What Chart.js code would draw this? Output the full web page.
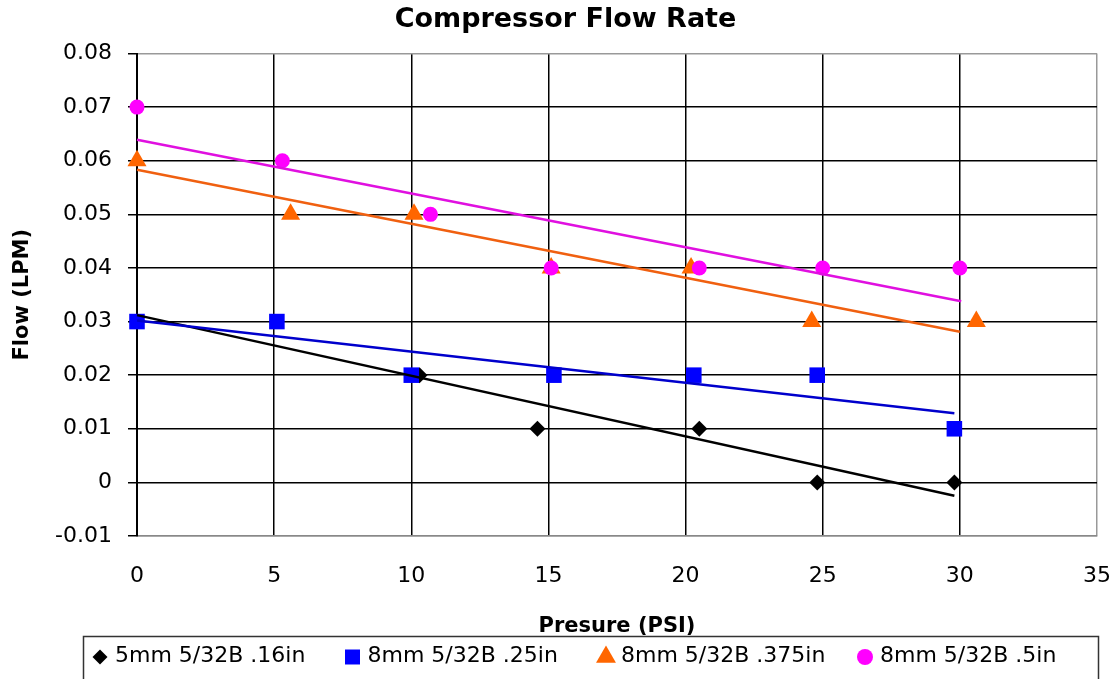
<!DOCTYPE html>
<html>
<head>
<meta charset="utf-8">
<title>Compressor Flow Rate</title>
<script src="https://cdn.jsdelivr.net/npm/chart.js@4.4.1/dist/chart.umd.min.js"></script>
<style>
  html, body { margin: 0; padding: 0; background: #fff; }
</style>
</head>
<body>
<canvas id="grafica" width="1116" height="679"></canvas>
<script>
// Textos de la gráfica
const titulo = 'Compressor Flow Rate';
const tituloX = 'Presure (PSI)';
const tituloY = 'Flow (LPM)';
const series = ['5mm 5/32B .16in', '8mm 5/32B .25in', '8mm 5/32B .375in', '8mm 5/32B .5in'];

// Datos (presión en PSI, flujo en LPM)
const presion16 = [0, 10.3, 14.6, 20.5, 24.8, 29.8];
const flujo16 = [0.03, 0.02, 0.01, 0.01, 0, 0];

const presion25 = [0, 5.1, 10.0, 15.2, 20.3, 24.8, 29.8];
const flujo25 = [0.03, 0.03, 0.02, 0.02, 0.02, 0.02, 0.01];

const presion375 = [0, 5.6, 10.1, 15.1, 20.2, 24.6, 30.6];
const flujo375 = [0.06, 0.05, 0.05, 0.04, 0.04, 0.03, 0.03];

const presion5 = [0, 5.3, 10.7, 15.1, 20.5, 25.0, 30.0];
const flujo5 = [0.07, 0.06, 0.05, 0.04, 0.04, 0.04, 0.04];

// Líneas de tendencia: extremos [inicio, fin]
const tendX16 = [0, 29.8];
const tendY16 = [0.0312, -0.0025];
const tendX25 = [0, 29.8];
const tendY25 = [0.0302, 0.0129];
const tendX375 = [0, 30.0];
const tendY375 = [0.0583, 0.0281];
const tendX5 = [0, 30.05];
const tendY5 = [0.0639, 0.0338];

// Ejes
const ejeXMin = 0, ejeXMax = 35, ejeXPaso = 5;
const ejeYMin = -0.01, ejeYMax = 0.08, ejeYPaso = 0.01;

// Colores de cada serie
const colores = ['#000000', '#0000ff', '#ff6600', '#ff00ff'];
const coloresTend = ['#000000', '#0000cc', '#f06010', '#e010e0'];

// Convertir dos arreglos en puntos {x, y}
function puntos(xs, ys) {
  return xs.map((x, i) => ({ x: x, y: ys[i] }));
}

const fuente = '"DejaVu Sans", Arial, sans-serif';

// Estilo de marcador por serie (para el gráfico y la leyenda)
const marcadores = [
  { pointStyle: 'rectRot', radius: 8 },
  { pointStyle: 'rect', radius: 11 },
  { pointStyle: 'triangle', radius: 11 },
  { pointStyle: 'circle', radius: 7.5 }
];

function serieMarcas(i, xs, ys, orden) {
  return {
    label: series[i],
    data: puntos(xs, ys),
    showLine: false,
    pointStyle: marcadores[i].pointStyle,
    pointRadius: marcadores[i].radius,
    pointBackgroundColor: colores[i],
    pointBorderColor: colores[i],
    pointBorderWidth: 0,
    order: orden,
    clip: false
  };
}

function serieTendencia(i, xs, ys, orden) {
  return {
    label: series[i] + ' tendencia',
    data: puntos(xs, ys),
    showLine: true,
    borderColor: coloresTend[i],
    borderWidth: 2.5,
    pointRadius: 0,
    order: orden,
    clip: false
  };
}

// Plugin para el título y la leyenda con recuadro
const extras = {
  id: 'extras',
  afterDraw(chart) {
    const ctx = chart.ctx;
    ctx.save();
    // Título
    ctx.fillStyle = '#000';
    ctx.font = 'bold 27px ' + fuente;
    ctx.textAlign = 'center';
    ctx.textBaseline = 'middle';
    ctx.fillText(titulo, 565.5, 20);

    // Recuadro de la leyenda
    ctx.strokeStyle = '#333';
    ctx.lineWidth = 1.5;
    ctx.strokeRect(83.5, 636.5, 1015, 60);

    // Elementos de la leyenda
    const centros = [100, 352.5, 606, 865];
    const tamLeyenda = [7.5, 10.6, 11.5, 8];
    const yLeyenda = 657;
    ctx.font = '22px ' + fuente;
    ctx.textAlign = 'left';
    ctx.textBaseline = 'middle';
    series.forEach((nombre, i) => {
      ctx.fillStyle = colores[i];
      ctx.strokeStyle = colores[i];
      Chart.helpers.drawPoint(ctx, {
        pointStyle: marcadores[i].pointStyle,
        radius: tamLeyenda[i],
        rotation: 0,
        borderWidth: 0
      }, centros[i], yLeyenda);
      ctx.fillStyle = '#000';
      ctx.fillText(nombre, centros[i] + 15, 656);
    });
    ctx.restore();
  }
};

const ctx = document.getElementById('grafica').getContext('2d');

new Chart(ctx, {
  type: 'scatter',
  data: {
    datasets: [
      serieTendencia(3, tendX5, tendY5, 0),
      serieTendencia(2, tendX375, tendY375, 1),
      serieTendencia(1, tendX25, tendY25, 2),
      serieTendencia(0, tendX16, tendY16, 3),
      serieMarcas(3, presion5, flujo5, 4),
      serieMarcas(2, presion375, flujo375, 5),
      serieMarcas(1, presion25, flujo25, 6),
      serieMarcas(0, presion16, flujo16, 7)
    ]
  },
  options: {
    responsive: false,
    animation: false,
    devicePixelRatio: 1,
    layout: {
      padding: { left: 0, top: 53.5, right: 19, bottom: 40 }
    },
    plugins: {
      legend: { display: false },
      title: { display: false },
      tooltip: { enabled: false }
    },
    scales: {
      x: {
        type: 'linear',
        position: 'bottom',
        min: ejeXMin,
        max: ejeXMax,
        afterFit: (escala) => {
          escala.height = 103;
          escala.paddingLeft = 0;
          escala.paddingRight = 0;
        },
        ticks: {
          stepSize: ejeXPaso,
          color: '#000',
          padding: 27,
          font: { family: fuente, size: 22 }
        },
        grid: {
          drawTicks: false,
          lineWidth: 1.5,
          color: (c) => (c.tick && c.tick.value >= ejeXMax) ? '#999999' : '#000000'
        },
        border: { display: true, color: '#888888', width: 1.5 },
        title: {
          display: true,
          text: tituloX,
          color: '#000',
          font: { family: fuente, size: 21, weight: 'bold' },
          padding: { top: 0, bottom: 0 }
        }
      },
      y: {
        type: 'linear',
        min: ejeYMin,
        max: ejeYMax,
        afterFit: (escala) => {
          escala.width = 137;
          escala.paddingTop = 0;
          escala.paddingBottom = 0;
        },
        ticks: {
          stepSize: ejeYPaso,
          color: '#000',
          padding: 16,
          font: { family: fuente, size: 22 },
          callback: (v) => Math.abs(v) < 1e-9 ? '0' : v.toFixed(2)
        },
        grid: {
          drawTicks: true,
          tickLength: 9,
          tickColor: '#000',
          tickWidth: 1.5,
          lineWidth: 1.5,
          color: (c) => (c.tick && (c.tick.value >= ejeYMax - 1e-9 || c.tick.value <= ejeYMin + 1e-9)) ? '#999999' : '#000000'
        },
        border: { display: true, color: '#000000', width: 2 },
        title: {
          display: true,
          text: tituloY,
          color: '#000',
          font: { family: fuente, size: 21, weight: 'bold' },
          padding: { top: 9.5, bottom: 0 }
        }
      }
    }
  },
  plugins: [extras]
});
</script>
</body>
</html>
